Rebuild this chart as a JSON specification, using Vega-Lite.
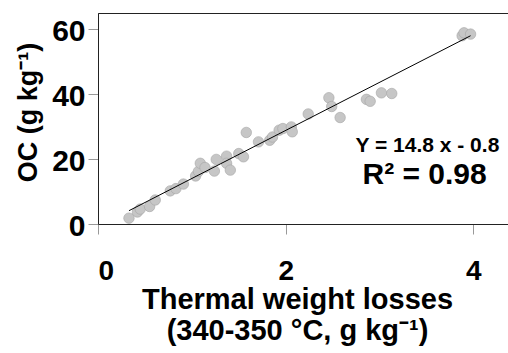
{
  "$schema": "https://vega.github.io/schema/vega-lite/v6.json",
  "autosize": "none",
  "width": 412,
  "height": 211,
  "padding": {"left": 98, "top": 13, "right": 0, "bottom": 129},
  "background": "white",
  "config": {
    "view": {"stroke": "#222", "strokeWidth": 1},
    "font": "Liberation Sans",
    "axis": {
      "grid": false,
      "domainColor": "#222",
      "tickColor": "#999",
      "labelFont": "Liberation Sans",
      "labelFontWeight": "bold",
      "labelColor": "black",
      "titleFont": "Liberation Sans",
      "titleFontWeight": "bold",
      "titleColor": "black"
    }
  },
  "datasets": {
    "pts": [
      {"x": 0.33, "y": 1.8}, {"x": 0.42, "y": 3.7}, {"x": 0.45, "y": 4.6},
      {"x": 0.55, "y": 5.4}, {"x": 0.61, "y": 7.4}, {"x": 0.77, "y": 10.2},
      {"x": 0.83, "y": 10.9}, {"x": 0.91, "y": 12.3}, {"x": 1.04, "y": 14.8},
      {"x": 1.07, "y": 16.2}, {"x": 1.09, "y": 18.7}, {"x": 1.14, "y": 17.4},
      {"x": 1.24, "y": 16.3}, {"x": 1.26, "y": 19.9}, {"x": 1.37, "y": 20.9},
      {"x": 1.37, "y": 18.7}, {"x": 1.41, "y": 16.6}, {"x": 1.5, "y": 21.7},
      {"x": 1.55, "y": 20.7}, {"x": 1.58, "y": 28.2}, {"x": 1.71, "y": 25.3},
      {"x": 1.83, "y": 25.8}, {"x": 1.86, "y": 26.8}, {"x": 1.93, "y": 28.9},
      {"x": 1.97, "y": 29.4}, {"x": 2.06, "y": 29.9}, {"x": 2.07, "y": 28.4},
      {"x": 2.24, "y": 33.9}, {"x": 2.46, "y": 38.9}, {"x": 2.49, "y": 36.2},
      {"x": 2.58, "y": 32.8}, {"x": 2.86, "y": 38.4}, {"x": 2.9, "y": 37.8},
      {"x": 3.02, "y": 40.4}, {"x": 3.13, "y": 40.2}, {"x": 3.88, "y": 58.0},
      {"x": 3.9, "y": 58.9}, {"x": 3.97, "y": 58.5}
    ],
    "fit": [{"x": 0.33, "y": 4.1}, {"x": 3.97, "y": 58.0}],
    "labels": [
      {"x": 3.51, "y": 24.0, "t": "Y = 14.8 x - 0.8", "s": 21},
      {"x": 3.48, "y": 15.1, "t": "R² = 0.98", "s": 30}
    ]
  },
  "layer": [
    {
      "data": {"name": "pts"},
      "mark": {"type": "point", "filled": true, "size": 110, "fill": "#c6c6c6", "stroke": "#a5a5a5", "strokeWidth": 0.6, "opacity": 1},
      "encoding": {
        "x": {
          "field": "x", "type": "quantitative",
          "scale": {"domain": [0, 4.39], "nice": false},
          "axis": {
            "values": [0, 2, 4], "format": "d",
            "labelFontSize": 28, "tickSize": 10, "labelPadding": 23,
            "title": ["Thermal weight losses", "(340-350 °C, g kg⁻¹)"],
            "titleFontSize": 29, "titleLineHeight": 31, "titlePadding": 0,
            "titleX": 199, "titleAlign": "center"
          }
        },
        "y": {
          "field": "y", "type": "quantitative",
          "scale": {"domain": [0, 65], "nice": false},
          "axis": {
            "values": [0, 20, 40, 60],
            "labelFontSize": 30, "tickSize": 10, "labelPadding": 3, "labelOffset": 2,
            "title": "OC (g kg⁻¹)", "titleFontSize": 27,
            "titleX": -70, "titleY": 99, "titleAlign": "center", "titleBaseline": "middle"
          }
        }
      }
    },
    {
      "data": {"name": "fit"},
      "mark": {"type": "line", "color": "black", "strokeWidth": 1},
      "encoding": {
        "x": {"field": "x", "type": "quantitative"},
        "y": {"field": "y", "type": "quantitative"}
      }
    },
    {
      "data": {"name": "labels"},
      "mark": {"type": "text", "fontWeight": "bold", "font": "Liberation Sans", "color": "black", "align": "center", "baseline": "middle"},
      "encoding": {
        "x": {"field": "x", "type": "quantitative"},
        "y": {"field": "y", "type": "quantitative"},
        "text": {"field": "t"},
        "size": {"field": "s", "type": "quantitative", "scale": null}
      }
    }
  ]
}
